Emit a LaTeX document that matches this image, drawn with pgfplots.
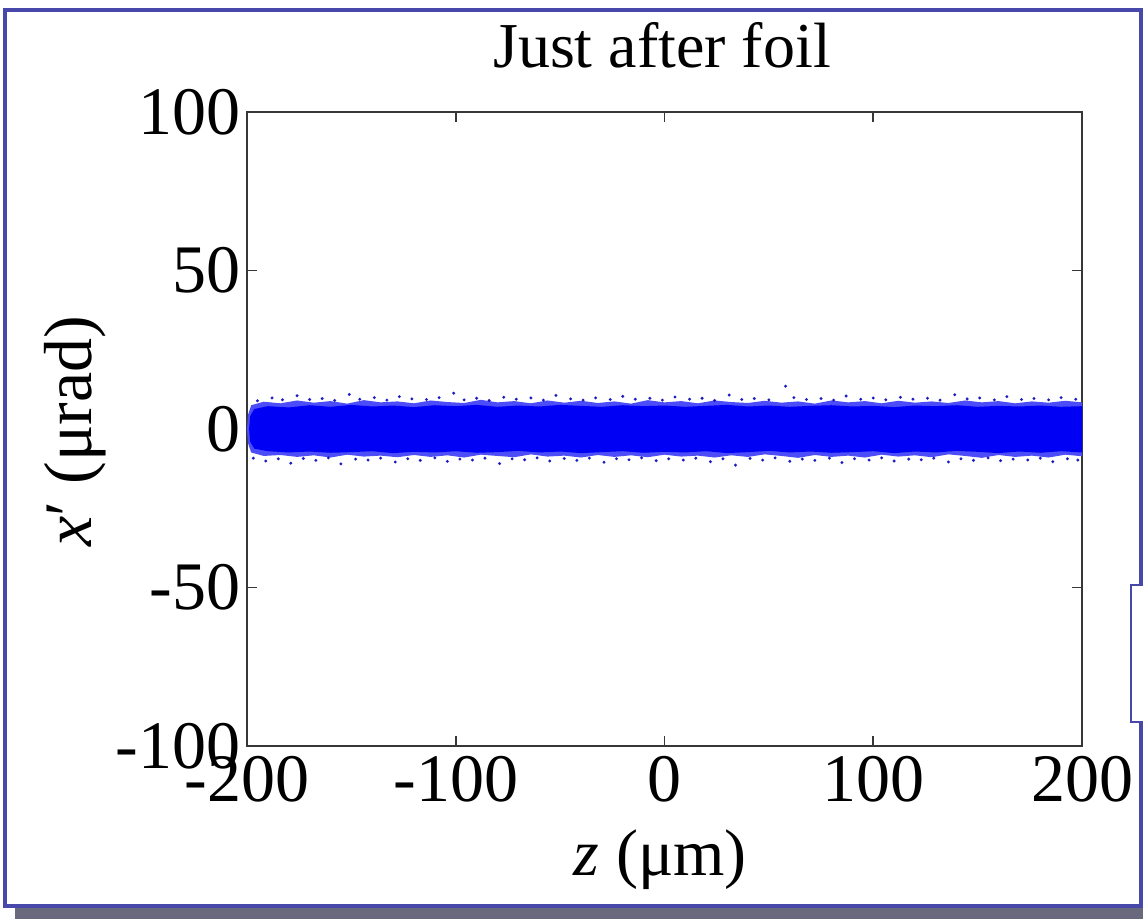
\documentclass[border=0pt]{standalone}
\usepackage{fontspec}
\setmainfont{Liberation Serif}
\usepackage{pgfplots}
\pgfplotsset{compat=1.18}
\definecolor{frameblue}{RGB}{72,72,170}
\definecolor{shadowgray}{RGB}{105,105,125}
\definecolor{dotblue}{RGB}{0,0,245}
\definecolor{axgray}{RGB}{55,55,55}
\begin{document}
\begin{tikzpicture}[x=0.5pt,y=0.5pt]
\path[use as bounding box] (0,0) rectangle (1143,920);
\fill[shadowgray] (15,1) rectangle (1143,14);
\draw[frameblue, line width=1.8pt, fill=white] (5,14) rectangle (1141,910);
\draw[frameblue, line width=1.4pt, fill=white] (1131,198) rectangle (1160,335);
\begin{axis}[
  at={(123.5pt,87pt)}, anchor=south west,
  scale only axis, width=417.5pt, height=317pt,
  xmin=-200, xmax=200, ymin=-100, ymax=100,
  xtick={-200,-100,0,100,200}, xticklabels={-200,-100,0,100,200},
  ytick={-100,-50,0,50,100}, yticklabels={-100,-50,0,50,100},
  tick align=inside, major tick length=5pt,
  axis line style={axgray, line width=0.9pt},
  every tick/.style={axgray, line width=0.9pt},
  tick label style={font=\fontsize{34}{40}\selectfont, inner sep=1pt},
  xticklabel style={yshift=-4pt},
  yticklabel style={xshift=-2pt},
  title={Just after foil},
  title style={font=\fontsize{32}{38}\selectfont, at={(axis description cs:0.497,1.087)}, anchor=center},
  xlabel={\textit{z} (μm)},
  xlabel style={font=\fontsize{33}{39}\selectfont, at={(axis description cs:0.495,-0.18)}, anchor=center},
  ylabel={\textit{x}′ (μrad)},
  ylabel style={font=\fontsize{34}{40}\selectfont, at={(axis description cs:-0.206,0.497)}, anchor=center},
  clip=true,
]
% outer fringe of the particle band
\addplot[draw=none, fill=dotblue!70] coordinates {
(-200,0) (-199.5,4.5) (-198,7.5) (-192,8.6) (-184,8.1) (-176,9.0) (-168,8.3) (-160,8.8) (-152,8.0) (-144,9.1) (-136,8.4) (-128,8.7) (-120,8.1) (-112,9.0) (-104,8.5) (-96,8.2) (-88,9.2) (-80,8.4) (-72,8.8) (-64,8.1) (-56,9.0) (-48,8.3) (-40,8.9) (-32,8.2) (-24,8.7) (-16,8.0) (-8,9.1) (0,8.4) (8,8.8) (16,8.1) (24,9.0) (32,8.5) (40,8.2) (48,8.9) (56,8.3) (64,8.7) (72,8.0) (80,9.0) (88,8.4) (96,8.8) (104,8.1) (112,8.9) (120,8.3) (128,8.7) (136,8.2) (144,9.0) (152,8.4) (160,8.8) (168,8.1) (176,8.7) (184,8.3) (192,8.9) (200,8.4)
(200,-8.6) (192,-8.1) (184,-9.0) (176,-8.4) (168,-8.8) (160,-8.2) (152,-9.1) (144,-8.5) (136,-8.0) (128,-8.9) (120,-8.3) (112,-8.7) (104,-8.1) (96,-9.0) (88,-8.4) (80,-8.8) (72,-8.2) (64,-9.1) (56,-8.5) (48,-8.0) (40,-8.8) (32,-8.3) (24,-9.0) (16,-8.4) (8,-8.7) (0,-8.1) (-8,-8.9) (-16,-8.3) (-24,-8.8) (-32,-8.2) (-40,-9.0) (-48,-8.4) (-56,-8.7) (-64,-8.0) (-72,-8.9) (-80,-8.5) (-88,-8.1) (-96,-9.0) (-104,-8.3) (-112,-8.8) (-120,-8.2) (-128,-8.9) (-136,-8.4) (-144,-8.7) (-152,-8.1) (-160,-9.0) (-168,-8.3) (-176,-8.8) (-184,-8.2) (-192,-8.5) (-198,-7.4) (-199.5,-4.5) (-200,0)
} -- cycle;
% dense core of the particle band
\addplot[draw=none, fill=dotblue] coordinates {
(-199,0) (-198.5,4) (-196.5,6.3) (-190,7.2) (-180,6.8) (-170,7.5) (-160,7.0) (-150,7.6) (-140,7.1) (-130,7.4) (-120,6.9) (-110,7.5) (-100,7.2) (-90,7.6) (-80,7.0) (-70,7.4) (-60,7.1) (-50,7.6) (-40,7.3) (-30,7.0) (-20,7.5) (-10,7.2) (0,7.4) (10,7.0) (20,7.3) (30,7.6) (40,7.1) (50,7.4) (60,7.0) (70,7.3) (80,7.5) (90,7.1) (100,7.3) (110,6.9) (120,7.4) (130,7.2) (140,7.5) (150,7.0) (160,7.3) (170,7.1) (180,7.4) (190,7.0) (200,7.2)
(200,-7.4) (190,-7.0) (180,-7.5) (170,-7.1) (160,-7.6) (150,-7.2) (140,-6.9) (130,-7.4) (120,-7.1) (110,-7.6) (100,-7.0) (90,-7.3) (80,-7.5) (70,-7.1) (60,-7.4) (50,-6.9) (40,-7.3) (30,-7.6) (20,-7.0) (10,-7.4) (0,-7.2) (-10,-7.5) (-20,-7.0) (-30,-7.3) (-40,-7.6) (-50,-7.1) (-60,-7.4) (-70,-6.9) (-80,-7.3) (-90,-7.5) (-100,-7.0) (-110,-7.4) (-120,-7.2) (-130,-7.6) (-140,-7.0) (-150,-7.3) (-160,-7.5) (-170,-7.1) (-180,-7.4) (-190,-7.0) (-196.5,-6.2) (-198.5,-4) (-199,0)
} -- cycle;
% sparse outlying particles
\addplot[only marks, mark=*, mark size=0.55pt, dotblue!75!black, draw opacity=0.75, fill opacity=0.75] coordinates {
(-195,8.9) (-188,9.8) (-183,9.2) (-176,10.5) (-170,9.3) (-164,9.6) (-158,9.0) (-151,10.9) (-146,9.4) (-139,9.9) (-133,9.1) (-127,10.2) (-121,9.5) (-114,9.3) (-108,9.9) (-101,11.3) (-96,9.2) (-90,9.7) (-84,9.0) (-77,10.0) (-71,9.4) (-64,9.8) (-58,9.1) (-52,10.6) (-45,9.5) (-39,9.1) (-33,9.8) (-26,9.3) (-20,10.3) (-14,9.4) (-7,9.7) (-1,9.1) (5,10.1) (12,9.4) (18,9.7) (24,9.0) (31,10.7) (37,9.3) (43,9.6) (50,9.2) (58,13.5) (62,9.9) (68,9.3) (75,9.6) (81,9.1) (87,10.4) (94,9.4) (100,9.8) (106,9.2) (113,10.0) (119,9.4) (126,9.7) (132,9.1) (139,10.8) (145,9.5) (151,9.8) (158,9.2) (164,10.2) (171,9.3) (177,9.6) (184,9.2) (190,9.9) (197,9.4)
(-197,-9.2) (-191,-10.1) (-185,-9.4) (-179,-10.8) (-173,-9.3) (-167,-9.9) (-161,-9.1) (-155,-11.0) (-148,-9.5) (-142,-9.8) (-136,-9.2) (-129,-10.4) (-123,-9.4) (-117,-9.9) (-110,-9.1) (-104,-10.2) (-98,-9.5) (-92,-9.8) (-86,-9.2) (-79,-10.9) (-73,-9.4) (-67,-9.7) (-61,-9.1) (-55,-10.1) (-48,-9.3) (-42,-9.9) (-36,-9.2) (-29,-10.5) (-23,-9.4) (-17,-9.7) (-11,-9.1) (-4,-10.0) (2,-9.4) (9,-9.8) (15,-9.2) (22,-10.3) (28,-9.4) (34,-11.4) (41,-9.3) (47,-9.8) (53,-9.1) (60,-10.2) (66,-9.5) (72,-9.9) (79,-9.2) (85,-10.6) (91,-9.4) (98,-9.8) (104,-9.1) (110,-10.1) (117,-9.5) (123,-9.7) (129,-9.2) (136,-10.4) (142,-9.4) (148,-9.9) (155,-9.1) (161,-10.0) (167,-9.5) (174,-9.8) (180,-9.2) (186,-10.3) (193,-9.4) (198,-9.8)
};
\end{axis}
\end{tikzpicture}
\end{document}
